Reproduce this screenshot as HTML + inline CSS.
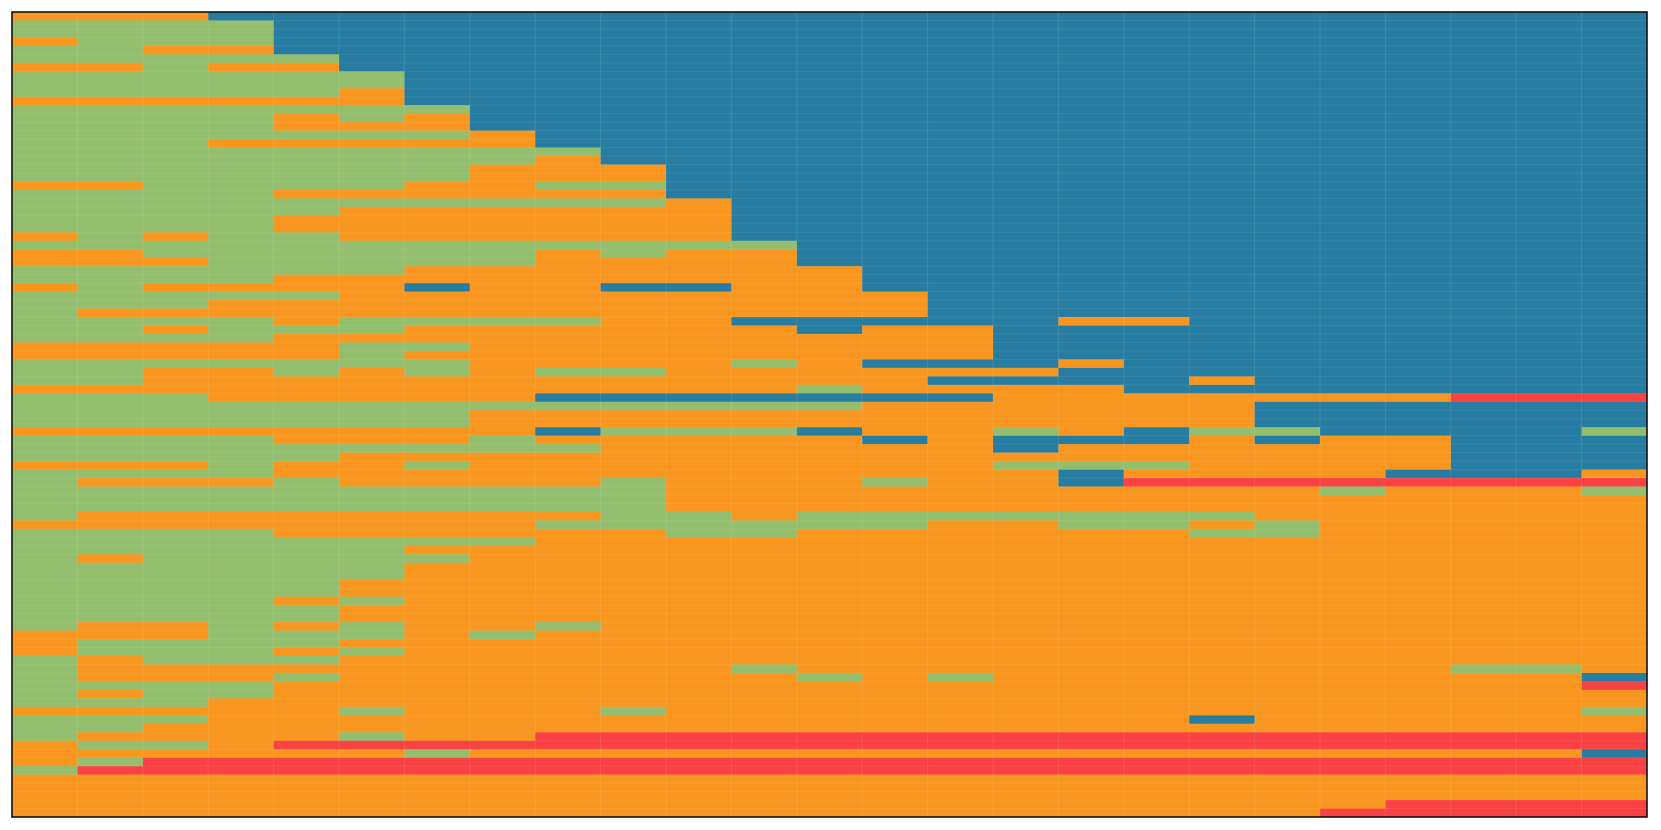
<!DOCTYPE html>
<html>
<head>
<meta charset="utf-8">
<style>
  html, body { margin: 0; padding: 0; background: #ffffff; }
  body { width: 1661px; height: 830px; overflow: hidden; font-family: "Liberation Sans", sans-serif; }
  svg { display: block; }
</style>
</head>
<body>
<svg id="chart" width="1661" height="830" viewBox="0 0 1661 830" xmlns="http://www.w3.org/2000/svg">
  <g id="cells"></g>
  <g id="grid"></g>
  <rect x="12" y="12" width="1635" height="805" fill="none" stroke="#111" stroke-width="1.6"/>
</svg>
<script>
// Category codes: O = orange, G = green, B = blue, R = red
const categories = ['O', 'G', 'B', 'R'];
const columnCount = 25;
// One string per row (top to bottom), one character per column
const rows = [
"OOOBBBBBBBBBBBBBBBBBBBBBB",
"GGGGBBBBBBBBBBBBBBBBBBBBB",
"GGGGBBBBBBBBBBBBBBBBBBBBB",
"OGGGBBBBBBBBBBBBBBBBBBBBB",
"GGOOBBBBBBBBBBBBBBBBBBBBB",
"GGGGGBBBBBBBBBBBBBBBBBBBB",
"OOGOOBBBBBBBBBBBBBBBBBBBB",
"GGGGGGBBBBBBBBBBBBBBBBBBB",
"GGGGGGBBBBBBBBBBBBBBBBBBB",
"GGGGGOBBBBBBBBBBBBBBBBBBB",
"OOOOOOBBBBBBBBBBBBBBBBBBB",
"GGGGGGGBBBBBBBBBBBBBBBBBB",
"GGGGOGOBBBBBBBBBBBBBBBBBB",
"GGGGOOOBBBBBBBBBBBBBBBBBB",
"GGGGGGGOBBBBBBBBBBBBBBBBB",
"GGGOOOOOBBBBBBBBBBBBBBBBB",
"GGGGGGGGGBBBBBBBBBBBBBBBB",
"GGGGGGGGOBBBBBBBBBBBBBBBB",
"GGGGGGGOOOBBBBBBBBBBBBBBB",
"GGGGGGGOOOBBBBBBBBBBBBBBB",
"OOGGGGOOGGBBBBBBBBBBBBBBB",
"GGGGOOOOOOBBBBBBBBBBBBBBB",
"GGGGGGGGGGOBBBBBBBBBBBBBB",
"GGGGGOOOOOOBBBBBBBBBBBBBB",
"GGGGOOOOOOOBBBBBBBBBBBBBB",
"GGGGOOOOOOOBBBBBBBBBBBBBB",
"OGOGGOOOOOOBBBBBBBBBBBBBB",
"GGGGGGGGGGGGBBBBBBBBBBBBB",
"OOGGGGGGOGOOBBBBBBBBBBBBB",
"OOOGGGGGOOOOBBBBBBBBBBBBB",
"GGGGGGOOOOOOOBBBBBBBBBBBB",
"GGGGOOOOOOOOOBBBBBBBBBBBB",
"OGOOOOBOOBBOOBBBBBBBBBBBB",
"GGGGGOOOOOOOOOBBBBBBBBBBB",
"GGGOOOOOOOOOOOBBBBBBBBBBB",
"GOOOOOOOOOOOOOBBBBBBBBBBB",
"GGGGOGGGGOOBBBBBOOBBBBBBB",
"GGOGGGOOOOOOBOOBBBBBBBBBB",
"GGGGOOOOOOOOOOOBBBBBBBBBB",
"OOOOOGGOOOOOOOOBBBBBBBBBB",
"OOOOOGOOOOOOOOOBBBBBBBBBB",
"GGGGGGGOOOOGOBBBOBBBBBBBB",
"GGOOGOGOGGOOOOOOBBBBBBBBB",
"GGOOOOOOOOOOOOBBBBOBBBBBB",
"OOOOOOOOOOOOGOOOOBBBBBBBB",
"GGGOOOOOBBBBBBBOOOOOOORRR",
"GGGGGGGGGGGGGOOOOOOBBBBBB",
"GGGGGGGOOOOOOOOOOOOBBBBBB",
"GGGGGGGOOOOOOOOOOOOBBBBBB",
"OOOOOOOOBGGGBOOGOBGGBBBBG",
"GGGGOOOGOOOOOBOBBBOBOOBBB",
"GGGGGGGGGOOOOOOBOOOOOOBBB",
"GGGGGOOOOOOOOOOOOOOOOOBBB",
"OOOGOOGOOOOOOOOGGGOOOOBBB",
"GGGGOOOOOOOOOOOOBOOOOBBBO",
"GOOOGOOOOGOOOGOOBRRRRRRRR",
"GGGGGGGGGGOOOOOOOOOOGOOOG",
"GGGGGGGGGGOOOOOOOOOOOOOOO",
"GGGGGGGGGGOOOOOOOOOOOOOOO",
"GOOOOOOOOGGOGGGGGGGOOOOOO",
"OOOOOOOOGGGGGGOOGGOGOOOOO",
"GGGGOOOOOOGGOOOOOOGGOOOOO",
"GGGGGGGGOOOOOOOOOOOOOOOOO",
"GGGGGGOOOOOOOOOOOOOOOOOOO",
"GOGGGGGOOOOOOOOOOOOOOOOOO",
"GGGGGGOOOOOOOOOOOOOOOOOOO",
"GGGGGGOOOOOOOOOOOOOOOOOOO",
"GGGGGOOOOOOOOOOOOOOOOOOOO",
"GGGGGOOOOOOOOOOOOOOOOOOOO",
"GGGGOGOOOOOOOOOOOOOOOOOOO",
"GGGGGOOOOOOOOOOOOOOOOOOOO",
"GGGGGOOOOOOOOOOOOOOOOOOOO",
"GOOGOGOOGOOOOOOOOOOOOOOOO",
"OOOGGGOGOOOOOOOOOOOOOOOOO",
"OGGGGOOOOOOOOOOOOOOOOOOOO",
"OGGGOGOOOOOOOOOOOOOOOOOOO",
"GOGGGOOOOOOOOOOOOOOOOOOOO",
"GOOOOOOOOOOGOOOOOOOOOOGGO",
"GOOOGOOOOOOOGOGOOOOOOOOOB",
"GGGGOOOOOOOOOOOOOOOOOOOOR",
"GOGGOOOOOOOOOOOOOOOOOOOOO",
"GGGOOOOOOOOOOOOOOOOOOOOOO",
"OOOOOGOOOGOOOOOOOOOOOOOOG",
"GGGOOOOOOOOOOOOOOOBOOOOOO",
"GGOOOOOOOOOOOOOOOOOOOOOOO",
"GOOOOGOORRRRRRRRRRRRRRRRR",
"OGGORRRRRRRRRRRRRRRRRRRRR",
"OOOOOOGOOOOOOOOOOOOOOOOOB",
"OGRRRRRRRRRRRRRRRRRRRRRRR",
"GRRRRRRRRRRRRRRRRRRRRRRRR",
"OOOOOOOOOOOOOOOOOOOOOOOOO",
"OOOOOOOOOOOOOOOOOOOOOOOOO",
"OOOOOOOOOOOOOOOOOOOOOOOOO",
"OOOOOOOOOOOOOOOOOOOOORRRR",
"OOOOOOOOOOOOOOOOOOOORRRRR"
];

const colorFor = { O: '#F8961F', G: '#92BE6D', B: '#277CA2', R: '#FA4143' };
const plot = { x0: 12, y0: 12, x1: 1647, y1: 817 };
const rowCount = rows.length;
function xScale(c) { return plot.x0 + (plot.x1 - plot.x0) * c / columnCount; }
function yScale(r) { return plot.y0 + (plot.y1 - plot.y0) * r / rowCount; }

const NS = 'http://www.w3.org/2000/svg';
const cellsG = document.getElementById('cells');
rows.forEach(function (rowStr, r) {
  let c = 0;
  while (c < columnCount) {
    const code = rowStr[c];
    let end = c + 1;
    while (end < columnCount && rowStr[end] === code) end++;
    const rect = document.createElementNS(NS, 'rect');
    
    
    const x = xScale(c), y = yScale(r);
    rect.setAttribute('x', x.toFixed(2));
    rect.setAttribute('y', y.toFixed(2));
    rect.setAttribute('width', (xScale(end) - x + 0.3).toFixed(2));
    rect.setAttribute('height', (yScale(r + 1) - y + 0.3).toFixed(2));
    rect.setAttribute('fill', colorFor[code] || '#ffffff');
    rect.setAttribute('data-category', code);
    cellsG.appendChild(rect);
    c = end;
  }
});

const gridG = document.getElementById('grid');
for (let c = 1; c < columnCount; c++) {
  const l = document.createElementNS(NS, 'line');
  
  
  l.setAttribute('x1', xScale(c)); l.setAttribute('x2', xScale(c));
  l.setAttribute('y1', plot.y0); l.setAttribute('y2', plot.y1);
  l.setAttribute('stroke', '#ffffff'); l.setAttribute('stroke-opacity', '0.1'); l.setAttribute('stroke-width', '1');
  gridG.appendChild(l);
}
for (let r = 1; r < rowCount; r++) {
  const l = document.createElementNS(NS, 'line');
  
  
  l.setAttribute('x1', plot.x0); l.setAttribute('x2', plot.x1);
  l.setAttribute('y1', yScale(r)); l.setAttribute('y2', yScale(r));
  l.setAttribute('stroke', '#ffffff'); l.setAttribute('stroke-opacity', '0.07'); l.setAttribute('stroke-width', '1');
  gridG.appendChild(l);
}
</script>
</body>
</html>
